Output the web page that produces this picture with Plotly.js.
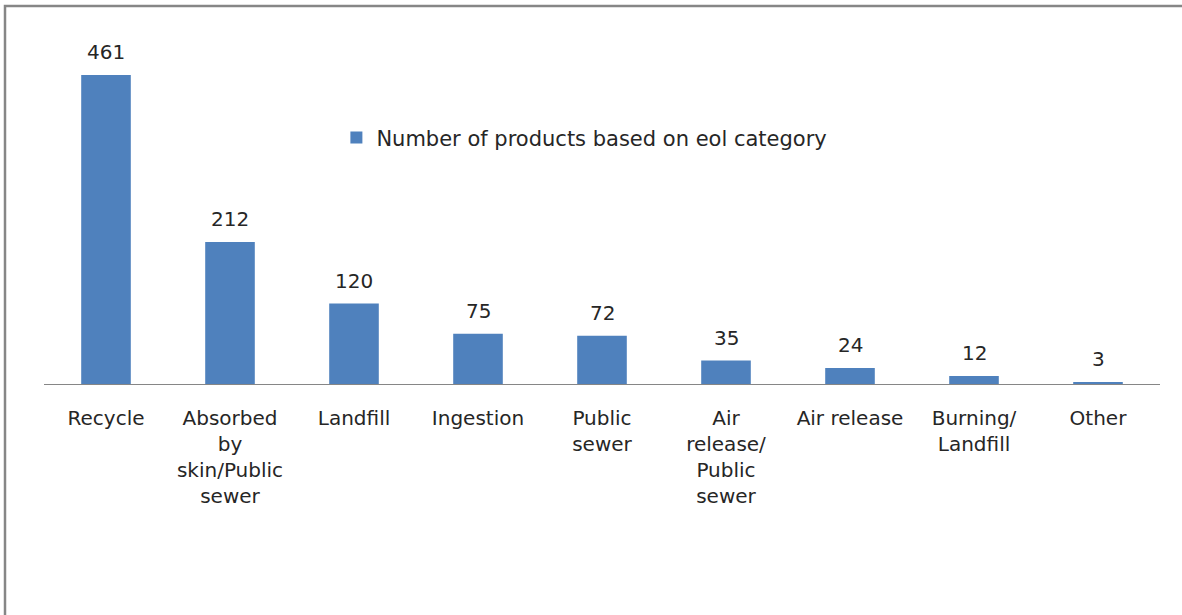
<!DOCTYPE html>
<html>
<head>
<meta charset="utf-8">
<script src="https://cdn.plot.ly/plotly-3.0.1.min.js"></script>
<style>
html,body{margin:0;padding:0;background:#fff;}
#chart{width:1182px;height:615px;}
</style>
</head>
<body>
<div id="chart"></div>
<script>
const categories = ["Recycle", "Absorbed<br>by<br>skin/Public<br>sewer", "Landfill", "Ingestion", "Public<br>sewer", "Air<br>release/<br>Public<br>sewer", "Air release", "Burning/<br>Landfill", "Other"];
const values = [461, 212, 120, 75, 72, 35, 24, 12, 3];
const seriesName = "Number of products based on eol category";

const FONT = "DejaVu Sans, Verdana, sans-serif";
const TXT = "#262626";

const trace = {
  type: "bar",
  x: categories,
  y: values,
  name: seriesName,
  marker: {color: "#4F81BD"},
  showlegend: true,
  hoverinfo: "none"
};

const annotations = categories.map((c, i) => ({
  x: c, y: values[i], xref: "x", yref: "y",
  text: String(values[i]), showarrow: false,
  yanchor: "bottom", yshift: 9,
  font: {family: FONT, size: 20, color: TXT}
}));

const layout = {
  width: 1182, height: 615,
  margin: {l: 44, r: 22, t: 20, b: 231, pad: 0},
  paper_bgcolor: "#ffffff",
  plot_bgcolor: "#ffffff",
  bargap: 0.6,
  showlegend: true,
  legend: {
    x: 0.262, y: 0.676, xanchor: "left", yanchor: "middle",
    font: {family: FONT, size: 21, color: TXT},
    bgcolor: "rgba(0,0,0,0)", itemwidth: 30
  },
  xaxis: {
    type: "category",
    showline: true, linecolor: "#868686", linewidth: 1,
    ticks: "", showgrid: false, zeroline: false,
    tickfont: {family: FONT, size: 20, color: TXT},
    tickangle: 0,
    ticklabelstandoff: 16,
    fixedrange: true
  },
  yaxis: {
    range: [0, 543],
    visible: false,
    showgrid: false, zeroline: false,
    fixedrange: true
  },
  annotations: annotations,
  shapes: [{
    type: "rect", xref: "paper", yref: "paper",
    x0: (5 - 44) / 1116, x1: 1.2,
    y0: -1, y1: (384 - 6) / 364,
    line: {color: "#868686", width: 2.5},
    fillcolor: "rgba(0,0,0,0)", layer: "below"
  }]
};

Plotly.newPlot("chart", [trace], layout, {displayModeBar: false, staticPlot: true});
</script>
</body>
</html>
